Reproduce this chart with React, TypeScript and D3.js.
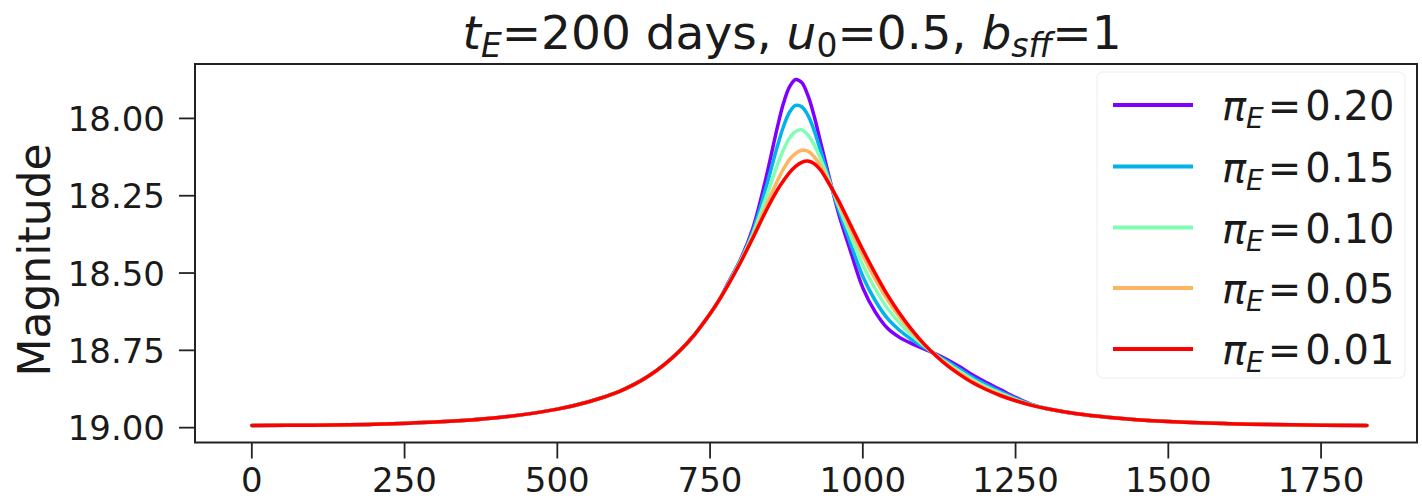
import React from "react";
import * as d3 from "d3";

// ---- data ----
const wingLeftDays = [0, 100, 200, 300, 400, 500, 550, 600, 625, 650, 675, 700, 725, 750, 765];
const wingLeftMag = [18.993, 18.992, 18.989, 18.982, 18.968, 18.940, 18.917, 18.884, 18.861, 18.832, 18.796, 18.752, 18.698, 18.632, 18.587];

const peakDays = [780, 800, 820, 840, 860, 870, 880, 890, 900, 910, 920, 930, 940, 960, 980, 1000, 1020, 1040, 1060, 1080, 1100, 1120, 1140, 1160, 1180, 1200, 1225, 1250, 1275];

const magPi020 = [18.530, 18.455, 18.355, 18.205, 18.030, 17.952, 17.898, 17.874, 17.884, 17.925, 17.990, 18.070, 18.150, 18.305, 18.430, 18.548, 18.625, 18.678, 18.708, 18.728, 18.745, 18.762, 18.782, 18.805, 18.830, 18.852, 18.877, 18.902, 18.924];
const magPi015 = [18.532, 18.458, 18.365, 18.235, 18.091, 18.027, 17.980, 17.958, 17.962, 17.989, 18.037, 18.099, 18.164, 18.293, 18.405, 18.511, 18.588, 18.646, 18.685, 18.715, 18.740, 18.764, 18.788, 18.813, 18.838, 18.859, 18.883, 18.905, 18.925];
const magPi010 = [18.534, 18.461, 18.374, 18.265, 18.151, 18.102, 18.063, 18.042, 18.037, 18.053, 18.084, 18.127, 18.177, 18.281, 18.379, 18.474, 18.550, 18.613, 18.661, 18.701, 18.735, 18.766, 18.794, 18.820, 18.845, 18.866, 18.888, 18.909, 18.926];
const magPi005 = [18.536, 18.463, 18.382, 18.290, 18.202, 18.164, 18.133, 18.113, 18.103, 18.106, 18.123, 18.151, 18.188, 18.271, 18.358, 18.443, 18.519, 18.586, 18.642, 18.690, 18.731, 18.767, 18.799, 18.826, 18.851, 18.872, 18.893, 18.911, 18.927];
const magPi001 = [18.537, 18.465, 18.387, 18.305, 18.232, 18.202, 18.175, 18.155, 18.142, 18.138, 18.146, 18.165, 18.195, 18.265, 18.345, 18.425, 18.500, 18.570, 18.630, 18.683, 18.729, 18.768, 18.802, 18.830, 18.855, 18.875, 18.896, 18.913, 18.927];

const wingRightDays = [1300, 1350, 1400, 1500, 1600, 1700, 1825];
const wingRightMag = [18.938, 18.955, 18.966, 18.980, 18.987, 18.991, 18.993];

const seriesLabels = ["0.20", "0.15", "0.10", "0.05", "0.01"];
const seriesPeaks = [magPi020, magPi015, magPi010, magPi005, magPi001];
const seriesColors = ["#8000ff", "#00b4eb", "#80ffb4", "#ffb462", "#ff0000"];

const xTicks = [0, 250, 500, 750, 1000, 1250, 1500, 1750];
const yTicks = [18.0, 18.25, 18.5, 18.75, 19.0];

// ---- layout ----
const W = 1422;
const H = 499;
const left = 195;
const right = 1417;
const top = 64;
const bottom = 442.5;
const FONT = "'DejaVu Sans', sans-serif";

export default function App() {
  const x = d3.scaleLinear().domain([-93, 1907]).range([left, right]);
  const y = d3.scaleLinear().domain([17.824, 19.048]).range([top, bottom]);

  const line = d3
    .line<[number, number]>()
    .x((d) => x(d[0]))
    .y((d) => y(d[1]))
    .curve(d3.curveCatmullRom.alpha(0.5));

  const series = seriesPeaks.map((pk) => {
    const pts: [number, number][] = [];
    wingLeftDays.forEach((t, i) => pts.push([t, wingLeftMag[i]]));
    peakDays.forEach((t, i) => pts.push([t, pk[i]]));
    wingRightDays.forEach((t, i) => pts.push([t, wingRightMag[i]]));
    return pts;
  });

  const legendRowY = [105, 166.5, 227.5, 288, 349];

  return (
    <svg
      width={W}
      height={H}
      style={{ position: "absolute", left: 0, top: 0, background: "#fff" }}
      fontFamily={FONT}
    >
      {/* title */}
      <text x={792} y={49} textAnchor="middle" fontSize={47} fill="#1a1a1a">
        <tspan fontStyle="italic">t</tspan>
        <tspan fontStyle="italic" fontSize={33} dy={8}>E</tspan>
        <tspan dy={-8}>=200 days, </tspan>
        <tspan fontStyle="italic">u</tspan>
        <tspan fontSize={33} dy={8}>0</tspan>
        <tspan dy={-8}>=0.5, </tspan>
        <tspan fontStyle="italic">b</tspan>
        <tspan fontStyle="italic" fontSize={33} dy={8}>sff</tspan>
        <tspan dy={-8}>=1</tspan>
      </text>

      <defs>
        <clipPath id="plotclip">
          <rect x={left} y={top} width={right - left} height={bottom - top} />
        </clipPath>
      </defs>

      {/* lines */}
      <g clipPath="url(#plotclip)">
        {series.map((pts, i) => (
          <path
            key={i}
            d={line(pts) || ""}
            fill="none"
            stroke={seriesColors[i]}
            strokeWidth={3.5}
            strokeLinejoin="round"
            strokeLinecap="round"
          />
        ))}
      </g>

      {/* legend */}
      <rect x={1097} y={72} width={308} height={306} rx={6} fill="#fff" fillOpacity={0.8} stroke="#f3f3f3" strokeWidth={1.5} />
      {seriesLabels.map((lab, i) => (
        <g key={lab}>
          <line x1={1113} x2={1193} y1={legendRowY[i]} y2={legendRowY[i]} stroke={seriesColors[i]} strokeWidth={4} />
          <text x={1222} y={legendRowY[i] + 15} fontSize={40} fill="#1a1a1a">
            <tspan fontStyle="italic">π</tspan>
            <tspan fontStyle="italic" fontSize={28} dy={8}>E</tspan>
            <tspan dy={-8} dx={4}>=</tspan>
            <tspan dx={4}>{lab}</tspan>
          </text>
        </g>
      ))}

      {/* axes frame */}
      <rect x={left} y={top} width={right - left} height={bottom - top} fill="none" stroke="#222" strokeWidth={2} />

      {/* y ticks */}
      {yTicks.map((v) => (
        <g key={v}>
          <line x1={left - 16} x2={left} y1={y(v)} y2={y(v)} stroke="#222" strokeWidth={1.8} />
          <text x={165} y={y(v) + 12.5} textAnchor="end" fontSize={34} fill="#1a1a1a">
            {d3.format(".2f")(v)}
          </text>
        </g>
      ))}

      {/* x ticks */}
      {xTicks.map((v) => (
        <g key={v}>
          <line x1={x(v)} x2={x(v)} y1={bottom} y2={bottom + 16} stroke="#222" strokeWidth={1.8} />
          <text x={x(v)} y={492} textAnchor="middle" fontSize={34} fill="#1a1a1a">
            {v}
          </text>
        </g>
      ))}

      {/* y label */}
      <text transform={`translate(50, 260) rotate(-90)`} textAnchor="middle" fontSize={44} fill="#1a1a1a">
        Magnitude
      </text>
    </svg>
  );
}
